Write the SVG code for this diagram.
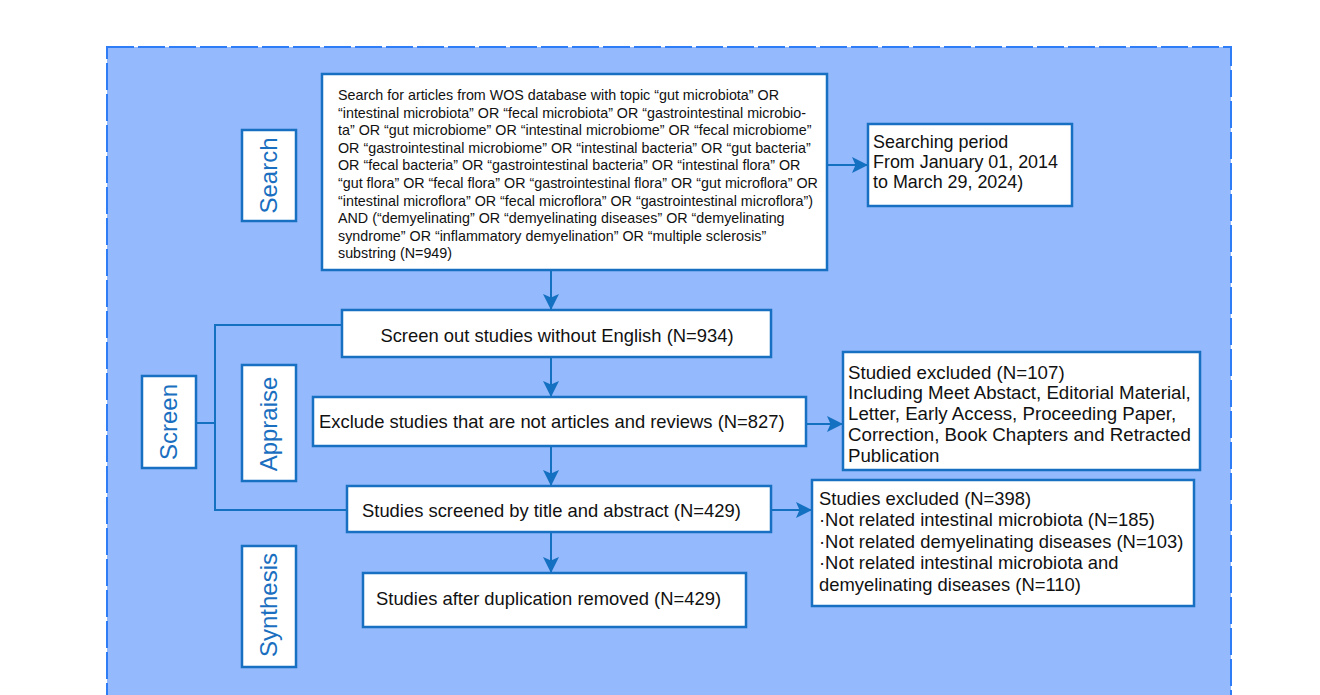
<svg xmlns="http://www.w3.org/2000/svg" width="1320" height="695" viewBox="0 0 1320 695">
<defs>
<style>
.bg{fill:#94b9fc;stroke:#2e7cf6;stroke-width:2;stroke-dasharray:27 4}
.box{fill:#ffffff;stroke:#1770c2;stroke-width:2.5}
.t{font-family:"Liberation Sans",Arial,sans-serif;fill:#111111}
.s{font-size:14.3px}
.m{font-size:18.4px}
.p{font-size:17.9px}
.lab{font-family:"Liberation Sans",Arial,sans-serif;font-size:24px;fill:#1a6fc0;text-anchor:middle}
.ln{fill:none;stroke:#1470c0;stroke-width:2}
.ar{fill:none;stroke:#1470c0;stroke-width:2;marker-end:url(#ah)}
</style>
<marker id="ah" markerUnits="userSpaceOnUse" markerWidth="18" markerHeight="16" refX="16" refY="8" orient="auto">
<path d="M0,0 L16,8 L0,16 L3.5,8 Z" fill="#1470c0"/>
</marker>
</defs>
<rect class="bg" x="107" y="47" width="1124" height="680"/>
<g id="connectors">
<line class="ar" x1="551" y1="270" x2="551" y2="310"/>
<line class="ar" x1="827" y1="165" x2="868" y2="165"/>
<line class="ar" x1="551" y1="357" x2="551" y2="397"/>
<line class="ar" x1="806" y1="424" x2="843" y2="424"/>
<line class="ar" x1="551" y1="446" x2="551" y2="486"/>
<line class="ar" x1="771" y1="510" x2="812" y2="510"/>
<line class="ar" x1="551" y1="532" x2="551" y2="573"/>
<polyline class="ln" points="342,325 215,325 215,510 347,510"/>
<line class="ln" x1="196" y1="423" x2="215" y2="423"/>
</g>
<g id="search-label">
<rect class="box" x="242" y="130" width="54" height="91"/>
<text class="lab" transform="translate(277,175.5) rotate(-90)">Search</text>
</g>
<g id="screen-label">
<rect class="box" x="142" y="376" width="54" height="92"/>
<text class="lab" transform="translate(177,422) rotate(-90)">Screen</text>
</g>
<g id="appraise-label">
<rect class="box" x="242" y="365" width="54" height="116"/>
<text class="lab" transform="translate(277,424) rotate(-90)">Appraise</text>
</g>
<g id="synthesis-label">
<rect class="box" x="242" y="546" width="54" height="121"/>
<text class="lab" transform="translate(277,605) rotate(-90)">Synthesis</text>
</g>
<g id="search-box">
<rect class="box" x="322" y="74" width="505" height="196"/>
<text class="t s" x="338" y="100">
<tspan x="338" y="100">Search for articles from WOS database with topic “gut microbiota” OR</tspan>
<tspan x="338" y="117.6">“intestinal microbiota” OR “fecal microbiota” OR “gastrointestinal microbio-</tspan>
<tspan x="338" y="135.2">ta” OR “gut microbiome” OR “intestinal microbiome” OR “fecal microbiome”</tspan>
<tspan x="338" y="152.8">OR “gastrointestinal microbiome” OR “intestinal bacteria” OR “gut bacteria”</tspan>
<tspan x="338" y="170.4">OR “fecal bacteria” OR “gastrointestinal bacteria” OR “intestinal flora” OR</tspan>
<tspan x="338" y="188">“gut flora” OR “fecal flora” OR “gastrointestinal flora” OR “gut microflora” OR</tspan>
<tspan x="338" y="205.6">“intestinal microflora” OR “fecal microflora” OR “gastrointestinal microflora”)</tspan>
<tspan x="338" y="223.2">AND (“demyelinating” OR “demyelinating diseases” OR “demyelinating</tspan>
<tspan x="338" y="240.8">syndrome” OR “inflammatory demyelination” OR “multiple sclerosis”</tspan>
<tspan x="338" y="258.4">substring (N=949)</tspan>
</text>
</g>
<g id="period-box">
<rect class="box" x="868" y="124" width="204" height="82"/>
<text class="t p">
<tspan x="873" y="147.5">Searching period</tspan>
<tspan x="873" y="167.5">From January 01, 2014</tspan>
<tspan x="873" y="187.5">to March 29, 2024)</tspan>
</text>
</g>
<g id="screen-out-box">
<rect class="box" x="342" y="310" width="429" height="47"/>
<text class="t m" x="557" y="341.5" text-anchor="middle">Screen out studies without English (N=934)</text>
</g>
<g id="exclude-box">
<rect class="box" x="313" y="397" width="493" height="49"/>
<text class="t m" x="319" y="428">Exclude studies that are not articles and reviews (N=827)</text>
</g>
<g id="excluded-107-box">
<rect class="box" x="843" y="352" width="357" height="118"/>
<text class="t m" style="font-size:18.7px">
<tspan x="848" y="378.5">Studied  excluded (N=107)</tspan>
<tspan x="848" y="399.3">Including Meet Abstact, Editorial Material,</tspan>
<tspan x="848" y="420.1">Letter, Early Access, Proceeding Paper,</tspan>
<tspan x="848" y="440.9">Correction, Book Chapters and Retracted</tspan>
<tspan x="848" y="461.7">Publication</tspan>
</text>
</g>
<g id="screened-box">
<rect class="box" x="347" y="486" width="424" height="46"/>
<text class="t m" x="362" y="516.5">Studies screened by title and abstract (N=429)</text>
</g>
<g id="excluded-398-box">
<rect class="box" x="812" y="480" width="382" height="126"/>
<text class="t m">
<tspan x="819" y="505">Studies excluded (N=398)</tspan>
<tspan x="819" y="526.4">·Not related intestinal microbiota (N=185)</tspan>
<tspan x="819" y="547.8">·Not related demyelinating diseases (N=103)</tspan>
<tspan x="819" y="569.2">·Not related intestinal microbiota and</tspan>
<tspan x="819" y="590.6">demyelinating diseases (N=110)</tspan>
</text>
</g>
<g id="dedup-box">
<rect class="box" x="363" y="573" width="383" height="54"/>
<text class="t m" x="376" y="604.5">Studies after duplication removed (N=429)</text>
</g>
</svg>
